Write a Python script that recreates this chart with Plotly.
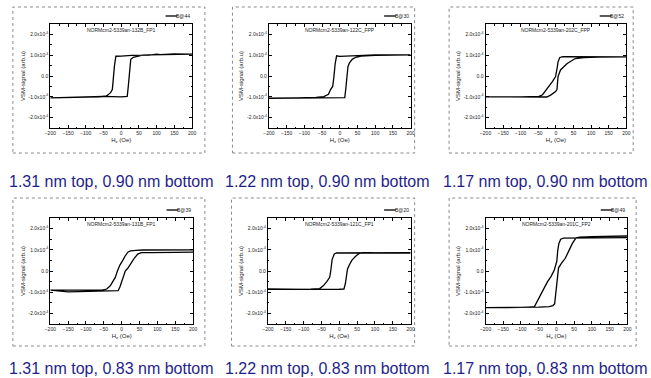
import plotly.graph_objects as go

# ---------------- data (VSM signal in units of 1e-4 arb.u) ----------------
panel_titles = ["NORMcm2-5339an-132B_FP1", "NORMcm2-5339an-122C_FPP", "NORMcm2-5339an-202C_FPP",
                "NORMcm2-5339an-131B_FP1", "NORMcm2-5339an-121C_FP1", "NORMcm2-5339an-201C_FP2"]
series_names = ["B@44", "B@30", "B@52", "B@39", "B@20", "B@49"]
captions = ["1.31 nm top, 0.90 nm bottom", "1.22 nm top, 0.90 nm bottom", "1.17 nm top, 0.90 nm bottom",
            "1.31 nm top, 0.83 nm bottom", "1.22 nm top, 0.83 nm bottom", "1.17 nm top, 0.83 nm bottom"]

# panel 1 (B@44)
p1_h = [200, 150, 110, 100, 80, 60, 30, 0, -10, -15, -19, -22, -25, -30, -42, -60, -100, -150, -200,
        -150, -100, -50, 0, 17, 20, 23, 27, 34, 45, 60, 80, 100, 120, 150, 200]
p1_m = [1.04, 1.06, 1.03, 1.05, 1.00, 1.00, 0.99, 0.96, 0.93, 0.95, 0.50, -0.20, -0.65, -0.80, -0.97, -1.00, -1.02, -1.03, -1.05,
        -1.04, -1.01, -0.98, -1.00, -0.98, -0.50, 0.30, 0.80, 0.90, 0.95, 1.00, 1.02, 1.03, 1.02, 1.04, 1.05]
# panel 2 (B@30)
p2_h = [200, 150, 100, 50, 20, 0, -9, -13, -17, -20, -26, -32, -45, -67, -120, -160, -200,
        -150, -100, -50, 0, 14, 17, 20, 23, 27, 35, 45, 60, 100, 150, 200]
p2_m = [1.02, 1.02, 1.01, 0.98, 0.96, 0.94, 0.97, 0.60, -0.10, -0.50, -0.65, -0.88, -0.99, -1.03, -1.05, -1.06, -1.07,
        -1.06, -1.05, -1.04, -1.04, -1.04, -0.60, 0.10, 0.45, 0.62, 0.80, 0.90, 0.96, 0.99, 1.01, 1.02]
# panel 3 (B@52)
p3_h = [200, 150, 100, 50, 20, 11, 6, 4, -1, -10, -24, -38, -48, -70, -100, -150, -200,
        -100, -50, -26, -15, -1, 3, 6, 13, 32, 55, 79, 120, 200]
p3_m = [0.92, 0.93, 0.93, 0.92, 0.93, 0.89, 0.68, 0.44, -0.03, -0.27, -0.59, -0.90, -0.98, -1.00, -1.00, -1.00, -1.00,
        -1.01, -1.01, -1.01, -0.92, -0.75, -0.65, -0.03, 0.29, 0.60, 0.84, 0.89, 0.91, 0.92]
# panel 4 (B@39)
p4_h = [200, 150, 100, 80, 60, 40, 25, 18, 10, 3, -5, -12, -18, -25, -32, -42, -55, -80, -100, -150, -200,
        -150, -100, -50, -20, -10, -5, 0, 5, 10, 17, 25, 35, 45, 55, 80, 100, 150, 200]
p4_m = [1.00, 1.00, 0.99, 1.02, 0.99, 0.97, 0.95, 0.90, 0.72, 0.50, 0.28, 0.00, -0.30, -0.50, -0.70, -0.85, -0.90, -0.90, -0.90, -0.90, -0.90,
        -0.98, -0.97, -0.96, -0.96, -0.93, -0.75, -0.50, -0.20, 0.00, 0.13, 0.35, 0.60, 0.80, 0.87, 0.87, 0.88, 0.88, 0.89]
# panel 5 (B@20)
p5_h = [200, 150, 100, 60, 40, 20, 0, -8, -14, -20, -24, -27, -35, -45, -55, -80, -120, -200,
        -150, -100, -50, 0, 13, 17, 20, 23, 28, 35, 45, 55, 65, 100, 200]
p5_m = [0.86, 0.86, 0.85, 0.88, 0.86, 0.85, 0.87, 0.85, 0.80, 0.55, 0.00, -0.30, -0.50, -0.70, -0.83, -0.86, -0.87, -0.86,
        -0.88, -0.88, -0.87, -0.86, -0.85, -0.60, -0.30, 0.10, 0.28, 0.50, 0.68, 0.82, 0.87, 0.85, 0.85]
# panel 6 (B@49)
p6_h = [200, 150, 100, 50, 30, 20, 12, 7, 4, 1, -6, -15, -25, -35, -45, -55, -62, -80, -100, -150, -200,
        -150, -100, -50, -20, -10, -5, -2, 2, 6, 15, 25, 35, 45, 55, 65, 100, 150, 200]
p6_m = [1.57, 1.56, 1.56, 1.55, 1.53, 1.55, 1.50, 1.30, 1.00, 0.45, 0.05, -0.25, -0.50, -0.80, -1.10, -1.45, -1.68, -1.70, -1.72, -1.73, -1.73,
        -1.73, -1.70, -1.70, -1.68, -1.63, -1.55, -1.00, -0.30, 0.15, 0.38, 0.60, 0.95, 1.30, 1.55, 1.60, 1.62, 1.63, 1.65]

x_tick_vals = [-200, -150, -100, -50, 0, 50, 100, 150, 200]
y_tick_vals = [-2, -1, 0, 1, 2]
y_tick_text = ["-2.0x10<sup>-4</sup>", "-1.0x10<sup>-4</sup>", "0.0", "1.0x10<sup>-4</sup>", "2.0x10<sup>-4</sup>"]

H_all = [p1_h, p2_h, p3_h, p4_h, p5_h, p6_h]
M_all = [p1_m, p2_m, p3_m, p4_m, p5_m, p6_m]

# ---------------- layout geometry (pixels) ----------------
W, H = 651, 378
plot_px = [(45, 189, 24, 128), (267, 411, 24, 128), (487, 630, 24, 128),
           (45, 190, 218, 324), (266, 411, 218, 324), (487, 631, 218, 324)]
box_px = [(7, 202, 7, 153), (230, 415, 7, 153), (450, 637, 7, 153),
          (7, 202, 198, 346), (229, 415, 198, 346), (450, 640, 198, 346)]
caption_px = [(107, 181), (327, 181), (548, 181), (107, 368), (327, 368), (548, 368)]

FONT = "Liberation Sans, Arial, sans-serif"
SMALL = 5
fig = go.Figure()
layout = dict(width=W, height=H, margin=dict(l=0, r=0, t=0, b=0),
              paper_bgcolor="white", plot_bgcolor="white", showlegend=False,
              font=dict(family=FONT, color="#222222"))
shapes, annotations = [], []

for i in range(6):
    n = "" if i == 0 else str(i + 1)
    fig.add_trace(go.Scatter(x=H_all[i], y=M_all[i], mode="lines", name=series_names[i],
                             line=dict(color="black", width=1.3),
                             xaxis="x" + n, yaxis="y" + n))
    x0, x1, y0, y1 = plot_px[i]
    axis_common = dict(showgrid=False, zeroline=False, showline=True, linecolor="black", linewidth=1,
                       mirror="ticks", ticks="inside", ticklen=3, tickwidth=0.8, tickcolor="black",
                       tickfont=dict(size=SMALL, family=FONT, color="#222222"))
    layout["xaxis" + n] = dict(axis_common, domain=[x0 / W, x1 / W], range=[-200, 200],
                               tickvals=x_tick_vals, anchor="y" + n,
                               minor=dict(ticks="inside", ticklen=1.5, dtick=25, tick0=0, tickcolor="black"),
                               title=dict(text="H<sub>z</sub> (Oe)", font=dict(size=6, family=FONT), standoff=2))
    layout["yaxis" + n] = dict(axis_common, domain=[1 - y1 / H, 1 - y0 / H], range=[-2.5, 2.5],
                               tickvals=y_tick_vals, ticktext=y_tick_text, anchor="x" + n,
                               minor=dict(ticks="inside", ticklen=1.5, dtick=0.5, tick0=0, tickcolor="black"),
                               title=dict(text="VSM-signal (arb.u)", font=dict(size=6, family=FONT), standoff=2))
    # panel title inside plot
    annotations.append(dict(text=panel_titles[i], xref="x" + n + " domain", yref="y" + n + " domain",
                            x=0.5, y=1, yanchor="top", yshift=-1, showarrow=False,
                            font=dict(size=SMALL, family=FONT, color="#222222")))
    # legend entry above plot
    pw, ph = x1 - x0, y1 - y0
    ly = 1 + 8 / ph
    shapes.append(dict(type="line", xref="x" + n + " domain", yref="y" + n + " domain",
                       x0=1 - 27 / pw, x1=1 - 15 / pw, y0=ly, y1=ly, line=dict(color="black", width=1.3)))
    annotations.append(dict(text=series_names[i], xref="x" + n + " domain", yref="y" + n + " domain",
                            x=1, y=ly, xanchor="right", yanchor="middle", showarrow=False,
                            font=dict(size=SMALL, family=FONT, color="#222222")))
    # outer panel frame
    bx0, bx1, by0, by1 = box_px[i]
    shapes.append(dict(type="rect", xref="paper", yref="paper", layer="below",
                       x0=bx0 / W, x1=bx1 / W, y0=1 - by1 / H, y1=1 - by0 / H,
                       line=dict(color="#8a8a8a", width=1, dash="dot")))
    # caption
    cx, cy = caption_px[i]
    annotations.append(dict(text=captions[i], xref="paper", yref="paper", x=cx / W, y=1 - cy / H,
                            xanchor="center", yanchor="middle", showarrow=False,
                            font=dict(size=16, family=FONT, color="#1f1f8a")))

layout["shapes"] = shapes
layout["annotations"] = annotations
fig.update_layout(**layout)
fig.write_html("out.html", config={"displayModeBar": False},
               post_script="document.body.style.margin='0';document.body.style.overflow='hidden';")
